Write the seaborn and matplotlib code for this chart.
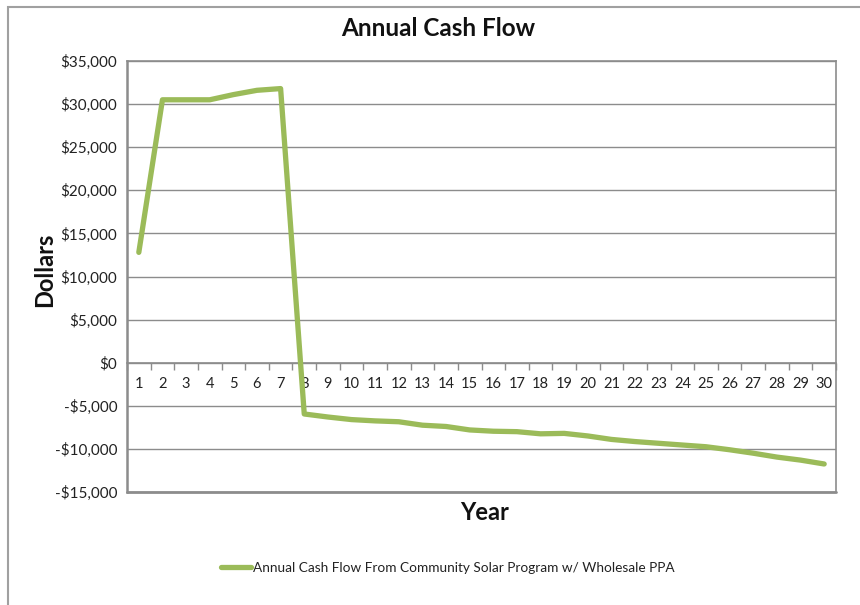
import matplotlib
matplotlib.use("Agg")
import matplotlib.pyplot as plt
import matplotlib.ticker as mticker
from matplotlib.patches import Rectangle
import seaborn as sns
import pandas as pd

# Annual cash flow by project year (dollars)
years = list(range(1, 31))
cash_flow = [
    12800, 30500, 30500, 30500, 31100, 31600, 31800, -5950, -6300, -6600,
    -6750, -6850, -7250, -7400, -7800, -7950, -8000, -8250, -8200, -8500,
    -8900, -9150, -9350, -9550, -9750, -10100, -10500, -10950, -11300, -11750,
]
y_ticks = list(range(-15000, 35001, 5000))
series_label = "Annual Cash Flow From Community Solar Program w/ Wholesale PPA"

df = pd.DataFrame({"Year": years, "Dollars": cash_flow})

sns.set_style("white")
plt.rcParams["font.family"] = ["Lato", "DejaVu Sans"]

fig = plt.figure(figsize=(8.6, 6.05), dpi=100)
W, H = 860, 605
ax = fig.add_axes([127 / W, 1 - 492 / H, (836 - 127) / W, (492 - 61) / H])

sns.lineplot(data=df, x="Year", y="Dollars", ax=ax, color="#9BBB59",
             linewidth=3.8, label=series_label, legend=False,
             solid_capstyle="round", solid_joinstyle="round", zorder=3)

ax.set_xlim(0.5, 30.5)
ax.set_ylim(-15000, 35000)
ax.set_yticks(y_ticks)
ax.yaxis.set_major_formatter(mticker.FuncFormatter(
    lambda v, p: f"-${abs(v):,.0f}" if v < 0 else f"${v:,.0f}"))
ax.yaxis.grid(True, color="#8c8c8c", linewidth=1.0)
ax.axhline(-15000, color="#8c8c8c", linewidth=2.0, clip_on=False, zorder=1)
ax.set_axisbelow(True)

# category axis crossing at zero: boundary ticks, centered labels
ax.set_xticks([y + 0.5 for y in years[:-1]] + [0.5, 30.5])
ax.set_xticklabels([])
ax.set_xticks(years, minor=True)
ax.set_xticklabels([str(y) for y in years], minor=True)
ax.tick_params(axis="x", which="major", direction="out", length=5,
               color="#8c8c8c", width=1)
ax.tick_params(axis="x", which="minor", length=0, pad=10, labelsize=10.5,
               labelcolor="#222222")
ax.tick_params(axis="y", direction="out", length=5, color="#8c8c8c",
               width=1, labelsize=11, labelcolor="#222222", pad=2)
ax.tick_params(axis="x", which="both", bottom=True)

ax.spines["bottom"].set_position(("data", 0))
for side in ["bottom", "left", "right", "top"]:
    ax.spines[side].set_color("#8c8c8c")
    ax.spines[side].set_linewidth(1.2)
ax.spines["left"].set_linewidth(1.8)
ax.set_xlabel("")
ax.set_ylabel("")

fig.text(438 / W, 1 - 28 / H, "Annual Cash Flow", ha="center", va="center",
         fontsize=17.5, fontweight="bold", color="#111111")
fig.text(45 / W, 1 - 270 / H, "Dollars", ha="center", va="center",
         rotation=90, fontsize=17, fontweight="bold", color="#111111")
fig.text(485 / W, 1 - 512 / H, "Year", ha="center", va="center",
         fontsize=17, fontweight="bold", color="#111111")

handles, labels = ax.get_legend_handles_labels()
fig.legend(handles, labels, loc="center", bbox_to_anchor=(448 / W, 1 - 568 / H),
           frameon=False, fontsize=9.8, handlelength=2.2, handletextpad=0.15,
           labelcolor="#222222")

# chart area border
fig.patches.append(Rectangle((8 / W, -0.05), 1.2, 1 - 7 / H + 0.05,
                             transform=fig.transFigure, fill=False,
                             edgecolor="#a0a0a0", linewidth=1.5))

fig.savefig("out.png", dpi=100)
